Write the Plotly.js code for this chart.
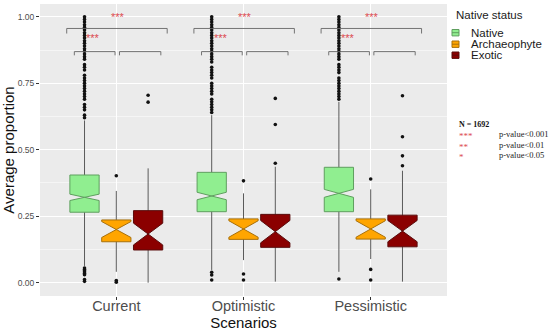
<!DOCTYPE html>
<html>
<head>
<meta charset="utf-8">
<script src="https://cdn.plot.ly/plotly-3.0.1.min.js"></script>
<style>html,body{margin:0;padding:0;background:#fff;}#chart{width:550px;height:332px;}</style>
</head>
<body>
<div id="chart"></div>
<script>
// ---------- data ----------
const scenarios = ['Current', 'Optimistic', 'Pessimistic'];
const statuses = ['Native', 'Archaeophyte', 'Exotic'];

const nativeQ1 = [0.265, 0.267, 0.267];
const nativeMedian = [0.321, 0.326, 0.336];
const nativeQ3 = [0.405, 0.415, 0.434];
const nativeLower = [0.063, 0.048, 0.041];
const nativeUpper = [0.61, 0.63, 0.68];
const nativeNotch = [0.012, 0.014, 0.015];

const archQ1 = [0.154, 0.163, 0.164];
const archMedian = [0.200, 0.202, 0.202];
const archQ3 = [0.236, 0.240, 0.240];
const archLower = [0.041, 0.085, 0.089];
const archUpper = [0.345, 0.336, 0.351];
const archNotch = [0.030, 0.031, 0.031];

const exoticQ1 = [0.123, 0.133, 0.135];
const exoticMedian = [0.183, 0.192, 0.194];
const exoticQ3 = [0.271, 0.257, 0.254];
const exoticLower = [0.000, 0.004, 0.004];
const exoticUpper = [0.430, 0.436, 0.421];
const exoticNotch = [0.041, 0.042, 0.040];

// outliers (per scenario)
const nativeOutCurrent = [0.62, 0.63, 0.65, 0.66, 0.67, 0.69, 0.70, 0.71, 0.72, 0.73, 0.74, 0.75, 0.76, 0.77, 0.78, 0.80, 0.81, 0.82, 0.84, 0.85, 0.86, 0.87, 0.88, 0.89, 0.90, 0.91, 0.92, 0.93, 0.94, 0.95, 0.96, 0.97, 0.98, 0.99, 1.00,
  0.055, 0.05, 0.045, 0.04, 0.035, 0.03, 0.012, 0.005];
const nativeOutOptimistic = [0.64, 0.65, 0.66, 0.67, 0.68, 0.69, 0.71, 0.72, 0.73, 0.74, 0.75, 0.77, 0.78, 0.79, 0.80, 0.81, 0.83, 0.84, 0.85, 0.86, 0.87, 0.88, 0.89, 0.90, 0.91, 0.92, 0.93, 0.94, 0.95, 0.96, 0.97, 0.98, 0.99, 1.00,
  0.039, 0.029, 0.010];
const nativeOutPessimistic = [0.69, 0.70, 0.71, 0.72, 0.73, 0.74, 0.75, 0.76, 0.77, 0.79, 0.80, 0.81, 0.82, 0.84, 0.85, 0.86, 0.87, 0.88, 0.89, 0.90, 0.91, 0.92, 0.93, 0.94, 0.95, 0.96, 0.97, 0.98, 0.99, 1.00,
  0.014];
const archOutCurrent = [0.402, 0.008, 0.002];
const archOutOptimistic = [0.383, 0.033, 0.010];
const archOutPessimistic = [0.390, 0.050, 0.010];
const exoticOutCurrent = [0.705, 0.679];
const exoticOutOptimistic = [0.693, 0.595, 0.449];
const exoticOutPessimistic = [0.703, 0.549, 0.477, 0.440];

const pLabels = ['***', '**', '*'];
const pTexts = ['p-value<0.001', 'p-value<0.01', 'p-value<0.05'];
const sampleSize = 1692;

// ---------- styling ----------
const FONT = 'Liberation Sans, Arial, sans-serif';
const SERIF = 'Liberation Serif, Times New Roman, serif';
const fills = ['#90EE90', '#FFA500', '#8B0000'];
const borders = ['#5f9f5f', '#a8700a', '#5a0c0c'];
const whiskerColor = '#5a5a5a';
const starColor = '#dc4a50';
const offsets = [-0.25, 0, 0.25];
const boxW = 0.23;

const stats = [
  [nativeQ1, nativeMedian, nativeQ3, nativeLower, nativeUpper, nativeNotch],
  [archQ1, archMedian, archQ3, archLower, archUpper, archNotch],
  [exoticQ1, exoticMedian, exoticQ3, exoticLower, exoticUpper, exoticNotch]
];
const outliers = [
  [nativeOutCurrent, nativeOutOptimistic, nativeOutPessimistic],
  [archOutCurrent, archOutOptimistic, archOutPessimistic],
  [exoticOutCurrent, exoticOutOptimistic, exoticOutPessimistic]
];

const traces = [];
statuses.forEach((s, k) => {
  const [q1, med, q3, lo, hi, notch] = stats[k];
  const pos = scenarios.map((_, i) => i + offsets[k]);
  // whiskers (grey)
  traces.push({
    type: 'box', name: s + ' whiskers', x: pos,
    q1: med, median: med, q3: med, lowerfence: lo, upperfence: hi,
    width: 0.002, whiskerwidth: 0, line: {color: whiskerColor, width: 1},
    fillcolor: 'rgba(0,0,0,0)', showlegend: false, hoverinfo: 'skip'
  });
  // outliers
  const ox = [], oy = [];
  outliers[k].forEach((arr, i) => arr.forEach(v => { ox.push(i + offsets[k]); oy.push(v); }));
  traces.push({
    type: 'scatter', mode: 'markers', x: ox, y: oy, name: s + ' outliers',
    marker: {color: '#111', size: 3.6}, showlegend: false, hoverinfo: 'y'
  });
  // box body
  traces.push({
    type: 'box', name: s, x: pos,
    q1: q1, median: med, q3: q3, lowerfence: q1, upperfence: q3,
    notched: true, notchspan: notch, notchwidth: 0.5,
    width: boxW, whiskerwidth: 0, line: {color: borders[k], width: 1},
    fillcolor: fills[k], showlegend: false
  });
});

// ---------- brackets & stars ----------
const shapes = [];
const annotations = [];
scenarios.forEach((sc, i) => {
  shapes.push({type: 'path', xref: 'x', yref: 'y', layer: 'above',
    path: `M ${i - 0.39},0.937 L ${i - 0.39},0.956 L ${i + 0.40},0.956 L ${i + 0.40},0.937`,
    line: {color: '#666', width: 0.9}});
  shapes.push({type: 'path', xref: 'x', yref: 'y', layer: 'above',
    path: `M ${i - 0.33},0.855 L ${i - 0.33},0.869 L ${i - 0.01},0.869 L ${i - 0.01},0.855`,
    line: {color: '#666', width: 0.9}});
  shapes.push({type: 'path', xref: 'x', yref: 'y', layer: 'above',
    path: `M ${i + 0.025},0.855 L ${i + 0.025},0.869 L ${i + 0.35},0.869 L ${i + 0.35},0.855`,
    line: {color: '#666', width: 0.9}});
  annotations.push({x: i + 0.01, y: 1.004, xref: 'x', yref: 'y', text: '***', showarrow: false,
    yshift: -1.5, font: {family: FONT, size: 11, color: starColor}});
  annotations.push({x: i - 0.18, y: 0.925, xref: 'x', yref: 'y', text: '***', showarrow: false,
    yshift: -1.5, font: {family: FONT, size: 11, color: starColor}});
});

// manual legend (pixel -> paper helpers)
const L = 40, R = 447, T = 4, B = 296;
const px = v => (v - L) / (R - L);
const py = v => (B - v) / (B - T);
annotations.push({x: px(454), y: py(15.5), xref: 'paper', yref: 'paper', xanchor: 'left', yanchor: 'middle',
  text: 'Native status', showarrow: false, font: {family: FONT, size: 11.5, color: '#1a1a1a'}});
const legY = [32.7, 44.2, 55.2];
statuses.forEach((s, k) => {
  const yc = legY[k];
  shapes.push({type: 'rect', xref: 'paper', yref: 'paper', x0: px(452), x1: px(459), y0: py(yc - 3.2), y1: py(yc + 3.2),
    fillcolor: fills[k], line: {color: borders[k], width: 1}});
  shapes.push({type: 'line', xref: 'paper', yref: 'paper', x0: px(452), x1: px(459), y0: py(yc), y1: py(yc),
    line: {color: borders[k], width: 1}});
  annotations.push({x: px(469), y: py(yc), xref: 'paper', yref: 'paper', xanchor: 'left', yanchor: 'middle',
    text: s, showarrow: false, font: {family: FONT, size: 11.5, color: '#1a1a1a'}});
});

// significance key
annotations.push({x: px(457), y: py(124), xref: 'paper', yref: 'paper', xanchor: 'left', yanchor: 'middle',
  text: '<b>N = ' + sampleSize + '</b>', showarrow: false, font: {family: SERIF, size: 8, color: '#111'}});
const keyY = [134, 144.5, 155];
pLabels.forEach((lab, k) => {
  annotations.push({x: px(457), y: py(keyY[k]), xref: 'paper', yref: 'paper', xanchor: 'left', yanchor: 'middle',
    text: lab, showarrow: false, yshift: -2, font: {family: SERIF, size: 9, color: starColor}});
  annotations.push({x: px(497), y: py(keyY[k]), xref: 'paper', yref: 'paper', xanchor: 'left', yanchor: 'middle',
    text: pTexts[k], showarrow: false, font: {family: SERIF, size: 8.5, color: '#222'}});
});

const layout = {
  width: 550, height: 332,
  margin: {l: L, r: 550 - R, t: T, b: 332 - B},
  paper_bgcolor: '#ffffff', plot_bgcolor: '#EBEBEB',
  font: {family: FONT},
  showlegend: false,
  boxmode: 'overlay',
  xaxis: {
    range: [-0.6, 2.6], tickmode: 'array', tickvals: scenarios.map((_, i) => i), ticktext: scenarios,
    showgrid: true, gridcolor: '#ffffff', gridwidth: 1.1, zeroline: false, showline: false,
    ticks: 'outside', ticklen: 3, tickcolor: '#333', tickwidth: 1, ticklabelstandoff: -6,
    tickfont: {family: FONT, size: 14.5, color: '#4d4d4d'},
    title: {text: 'Scenarios', font: {family: FONT, size: 15, color: '#111'}, standoff: 2}
  },
  yaxis: {
    range: [-0.05, 1.048], tickmode: 'array', tickvals: [0, 0.25, 0.5, 0.75, 1],
    ticktext: ['0.00', '0.25', '0.50', '0.75', '1.00'],
    showgrid: true, gridcolor: '#ffffff', gridwidth: 1.1, zeroline: false, showline: false,
    minor: {tickmode: 'array', tickvals: [0.125, 0.375, 0.625, 0.875], showgrid: true, gridcolor: '#ffffff', gridwidth: 0.5, ticks: ''},
    ticks: 'outside', ticklen: 3, tickcolor: '#333', tickwidth: 1,
    tickfont: {family: FONT, size: 8.5, color: '#4d4d4d'},
    title: {text: 'Average proportion', font: {family: FONT, size: 15, color: '#111'}, standoff: 2}
  },
  shapes: shapes,
  annotations: annotations
};

Plotly.newPlot('chart', traces, layout, {displayModeBar: false, staticPlot: true});
</script>
</body>
</html>
